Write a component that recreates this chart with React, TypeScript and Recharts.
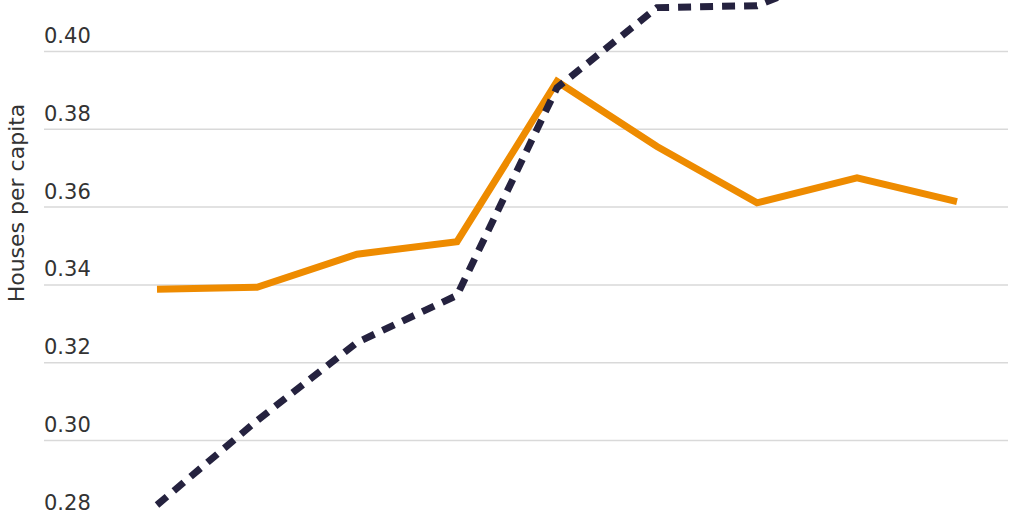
import React from "react";
import { LineChart, Line, XAxis, YAxis, CartesianGrid, Label } from "recharts";

const categories = ["1940", "1950", "1960", "1970", "1980", "1990", "2000", "2010", "2020"];
const solidSeries = [0.3389, 0.3394, 0.3479, 0.3511, 0.3923, 0.3756, 0.3611, 0.3675, 0.3614];
const dashedSeries = [0.2834, 0.3051, 0.3252, 0.3373, 0.3907, 0.4113, 0.4118, 0.4222, 0.4300];
const yTicks = [0.28, 0.3, 0.32, 0.34, 0.36, 0.38, 0.4];

const data = categories.map((c, i) => ({ cat: c, solid: solidSeries[i], dashed: dashedSeries[i] }));

const FONT = "'DejaVu Sans', sans-serif";

const Tick = (props: any) => {
  const { y, payload } = props;
  return (
    <text x={44} y={y - 8.5} textAnchor="start" fill="#333" fontSize={21} fontFamily={FONT}>
      {Number(payload.value).toFixed(2)}
    </text>
  );
};

export default function App() {
  return (
    <div style={{ position: "absolute", left: 0, top: -104 }}>
      <LineChart width={1024} height={710} data={data} margin={{ top: 0, right: 16, bottom: 10, left: 0 }}>
        <CartesianGrid vertical={false} stroke="#d9d9d9" strokeWidth={1.5} />
        <XAxis dataKey="cat" hide scale="point" padding={{ left: 113, right: 51 }} />
        <YAxis
          width={44}
          domain={[0.26, 0.44]}
          ticks={yTicks}
          axisLine={false}
          tickLine={false}
          tick={<Tick />}
        >
          <Label
            content={() => (
              <text
                x={0}
                y={0}
                transform="translate(24, 307) rotate(-90)"
                textAnchor="middle"
                fill="#333"
                fontSize={22}
                fontFamily={FONT}
              >
                Houses per capita
              </text>
            )}
          />
        </YAxis>
        <Line
          type="linear"
          dataKey="solid"
          stroke="#EE8B00"
          strokeWidth={7}
          dot={false}
          isAnimationActive={false}
          strokeLinejoin="miter"
        />
        <Line
          type="linear"
          dataKey="dashed"
          stroke="#25223F"
          strokeWidth={7}
          strokeDasharray="13 9"
          dot={false}
          isAnimationActive={false}
        />
      </LineChart>
    </div>
  );
}
